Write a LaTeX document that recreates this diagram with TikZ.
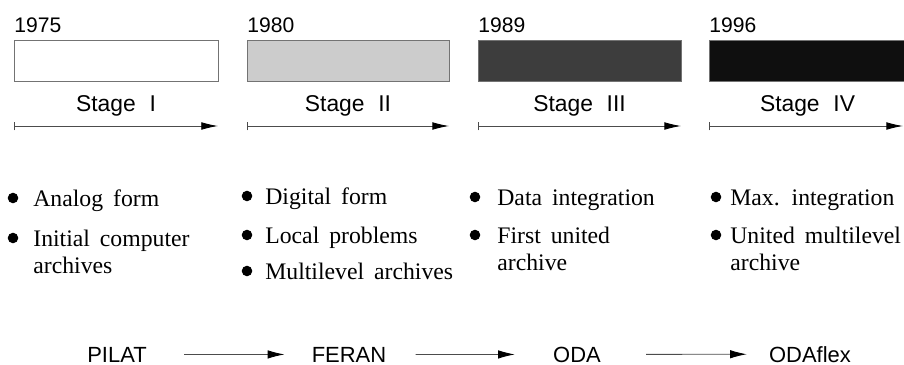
\documentclass[tikz,border=0pt]{standalone}
\usepackage{fontspec}
\setmainfont{Liberation Serif}
\setsansfont{Liberation Sans}
\usetikzlibrary{arrows.meta,positioning}
\definecolor{boxlight}{gray}{0.80}
\definecolor{boxdark}{gray}{0.24}
\definecolor{boxblack}{gray}{0.06}
\newcommand{\widespace}{\spaceskip=0.42em\relax}

\tikzset{
    yearlbl/.style={font=\sffamily\fontsize{12}{14}\selectfont, anchor=base west, inner sep=0pt},
    stagelbl/.style={font=\sffamily\fontsize{13}{16}\selectfont, anchor=base, inner sep=0pt},
    stagebox/.style={draw=black!55, line width=0.4pt},
    timeline/.style={draw=black!70, line width=0.5pt, {Bar[width=5pt,black!70]}-{Latex[length=9.5pt,width=4.4pt,black]}},
    item/.style={font=\fontsize{13.5}{16}\selectfont, execute at begin node=\widespace, anchor=base west, inner sep=0pt},
    dot/.style={circle, fill=black, inner sep=0pt, minimum size=6pt},
    prog/.style={font=\sffamily\fontsize{12.5}{15}\selectfont, anchor=base, inner sep=0pt},
    flow/.style={draw=black!70, line width=0.5pt, -{Latex[length=9.5pt,width=4.8pt,black]}}
}

\begin{document}
\begin{tikzpicture}[x=0.02cm, y=-0.02cm]
    \useasboundingbox (0,0) rectangle (904,365);

    % Stages along the time line
    \foreach \yr/\xa/\xb/\tone/\num [count=\i] in {1975/14/218/white/I, 1980/247/449/boxlight/II, 1989/478/681/boxdark/III, 1996/709/906/boxblack/IV} {
        \node[yearlbl] (year\i) at (\xa,32) {\yr};
        \draw[stagebox, fill=\tone] (\xa,40) rectangle (\xb,81);
        \node[stagelbl] (stage\i) at ({(\xa+\xb)/2},112) {Stage\hspace{0.6em}\num};
        \coordinate (from\i) at (\xa,126);
        \coordinate (to\i) at ({min(\xb,903)},126);
        \draw[timeline] (from\i) -- (to\i);
    }

    % Stage I
    \node[dot] (d1a) at (13,198) {};
    \node[item] (i1a) at (33,206) {Analog form};
    \node[dot] (d1b) at (13,238) {};
    \node[item] (i1b) at (33,246) {Initial computer};
    \node[item] (i1c) at (33,273) {archives};

    % Stage II
    \node[dot] (d2a) at (247,196) {};
    \node[item] (i2a) at (265,204) {Digital form};
    \node[dot] (d2b) at (247,235) {};
    \node[item] (i2b) at (265,243) {Local problems};
    \node[dot] (d2c) at (247,271) {};
    \node[item] (i2c) at (265,279) {Multilevel archives};

    % Stage III
    \node[dot] (d3a) at (475,197) {};
    \node[item] (i3a) at (497,205) {Data integration};
    \node[dot] (d3b) at (475,235) {};
    \node[item] (i3b) at (497,243) {First united};
    \node[item] (i3c) at (497,270) {archive};

    % Stage IV
    \node[dot] (d4a) at (716,197) {};
    \node[item] (i4a) at (730,205) {Max. integration};
    \node[dot] (d4b) at (716,235) {};
    \node[item] (i4b) at (730,243) {United multilevel};
    \node[item] (i4c) at (730,270) {archive};

    % Systems
    \node[prog] (pilat) at (117,362) {PILAT};
    \node[prog] (feran) at (349,362) {FERAN};
    \node[prog] (oda) at (577,362) {ODA};
    \node[prog] (odaflex) at (810,362) {ODAflex};

    \draw[flow, shorten <=0.74cm, shorten >=0.54cm] (pilat) -- (feran);
    \draw[flow, shorten <=0.58cm, shorten >=0.76cm] (feran) -- (oda);
    \draw[flow, shorten <=0.9cm, shorten >=0.44cm] (oda) -- (odaflex);
\end{tikzpicture}
\end{document}
